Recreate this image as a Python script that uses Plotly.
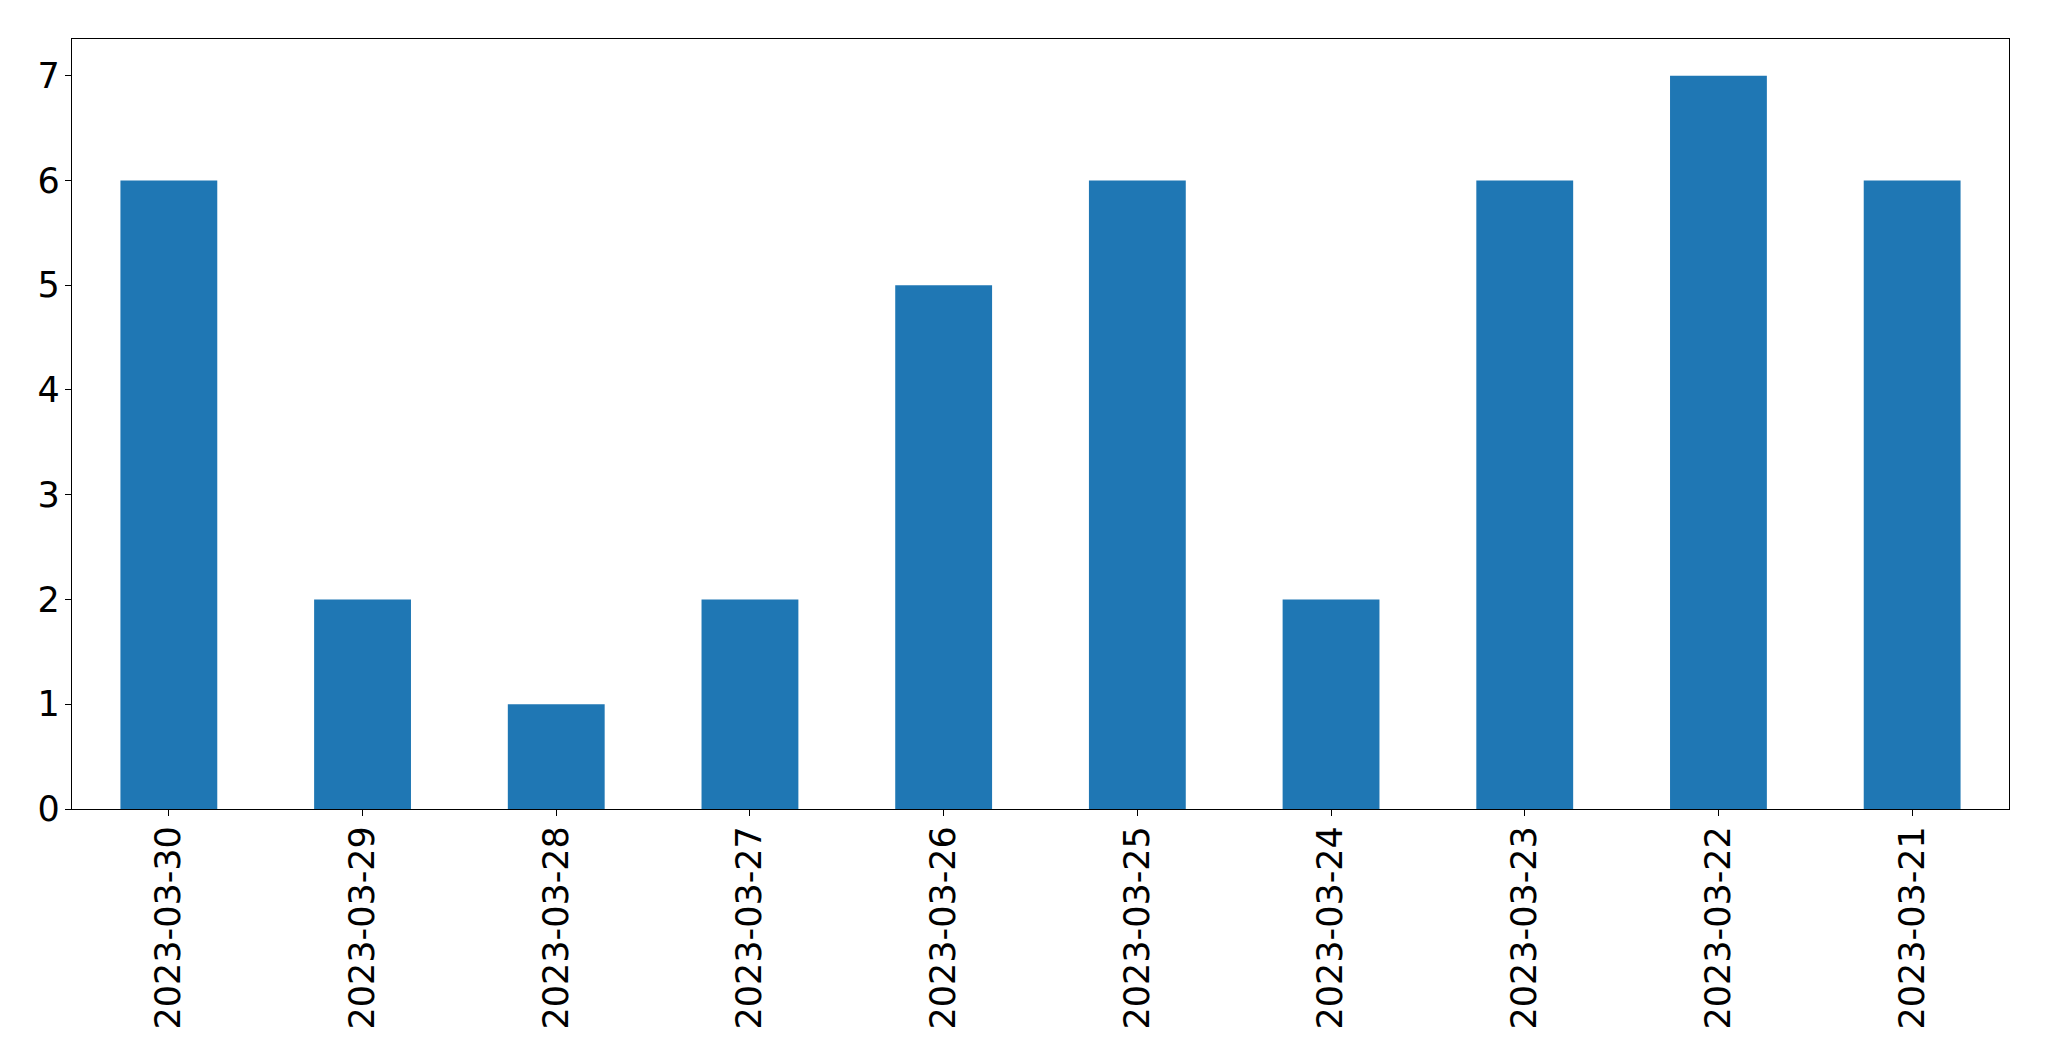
import plotly.graph_objects as go

dates = ["2023-03-30", "2023-03-29", "2023-03-28", "2023-03-27", "2023-03-26",
         "2023-03-25", "2023-03-24", "2023-03-23", "2023-03-22", "2023-03-21"]
counts = [6, 2, 1, 2, 5, 6, 2, 6, 7, 6]
y_ticks = [0, 1, 2, 3, 4, 5, 6, 7]

fig = go.Figure(go.Bar(x=dates, y=counts, marker_color="#1f77b4", marker_line_width=0, width=0.5))

fig.update_layout(
    width=2049, height=1061,
    margin=dict(l=64, r=48, t=31, b=260),
    paper_bgcolor="white", plot_bgcolor="white",
    font=dict(family="DejaVu Sans", size=35, color="black"),
    showlegend=False,
)
fig.update_xaxes(
    type="category", range=[-0.5, 9.5], tickangle=-90,
    showline=True, mirror=True, linecolor="black", linewidth=1.3,
    ticks="outside", ticklen=6, tickwidth=1.3, tickcolor="black",
    showgrid=False, zeroline=False, ticklabelstandoff=-4,
)
fig.update_yaxes(
    range=[0, 7.35], tickvals=y_ticks,
    showline=True, mirror=True, linecolor="black", linewidth=1.3,
    ticks="outside", ticklen=6, tickwidth=1.3, tickcolor="black",
    showgrid=False, zeroline=False, ticklabelstandoff=-2,
)
fig.write_html("out.html")
